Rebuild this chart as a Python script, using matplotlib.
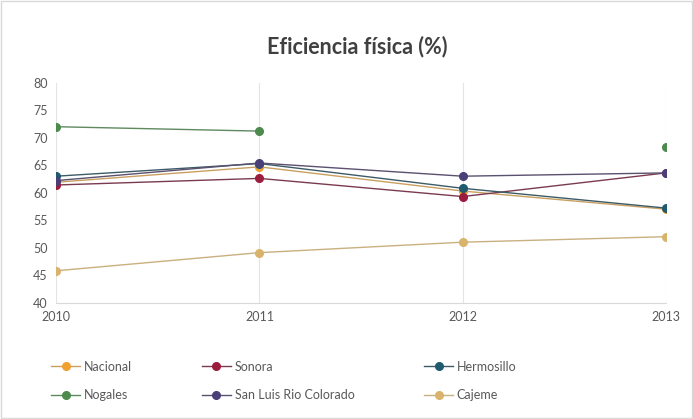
# Eficiencia física (%) - line chart by municipality

import numpy as np
import matplotlib.pyplot as plt

plt.rcParams['font.family'] = ['Lato', 'DejaVu Sans']

years = [2010, 2011, 2012, 2013]
nacional = [61.9, 64.7, 60.3, 57.0]
sonora = [61.4, 62.6, 59.3, 63.6]
hermosillo = [63.0, 65.3, 60.8, 57.2]
nogales = [72.0, 71.2, np.nan, 68.3]
san_luis = [62.2, 65.4, 63.0, 63.6]
cajeme = [45.8, 49.1, 51.0, 52.0]

names = ['Nacional', 'Sonora', 'Hermosillo', 'Nogales', 'San Luis Rio Colorado', 'Cajeme']
series = [nacional, sonora, hermosillo, nogales, san_luis, cajeme]
markers = ['#f0a030', '#9b1c3d', '#1f5a6e', '#4d8a4d', '#4a3f78', '#d9b36c']
lines = ['#c9a060', '#7a3a50', '#3d5a66', '#5e8a5e', '#5a5070', '#c9b080']

fig = plt.figure(figsize=(6.93, 4.19), dpi=100)
ax = fig.add_axes([0.081, 0.2776, 0.880, 0.525])

handles = []
for name, vals, mc, lc in zip(names, series, markers, lines):
    h, = ax.plot(years, vals, color=lc, lw=1.0, marker='o', ms=5.5,
                 markerfacecolor=mc, markeredgecolor=mc, label=name)
    handles.append(h)

ax.set_xlim(2010, 2013)
ax.set_ylim(40, 80)
ax.set_yticks(range(40, 81, 5))
ax.set_xticks(years)
ax.grid(axis='x', color='#e4e4e4', lw=0.8)
ax.set_axisbelow(True)
for s in ['left', 'right', 'top']:
    ax.spines[s].set_visible(False)
ax.spines['bottom'].set_color('#d9d9d9')
ax.tick_params(length=0, labelsize=9, colors='#595959', pad=6)

fig.suptitle('Eficiencia física (%)', x=0.515, y=0.915, fontsize=15.5,
             fontweight='bold', color='#404040')

# legend filled row by row like the original
order = [0, 3, 1, 4, 2, 5]
fig.legend([handles[i] for i in order], [names[i] for i in order],
           loc='lower left', bbox_to_anchor=(0.058, 0.015), ncol=3,
           frameon=False, fontsize=9, labelcolor='#595959',
           handlelength=2.3, columnspacing=5.6, handletextpad=0.3,
           labelspacing=1.35)

fig.patches.append(plt.Rectangle((0.002, 0.002), 0.996, 0.996, transform=fig.transFigure,
                                 fill=False, edgecolor='#d9d9d9', lw=1))

fig.savefig('out.png', dpi=100)
